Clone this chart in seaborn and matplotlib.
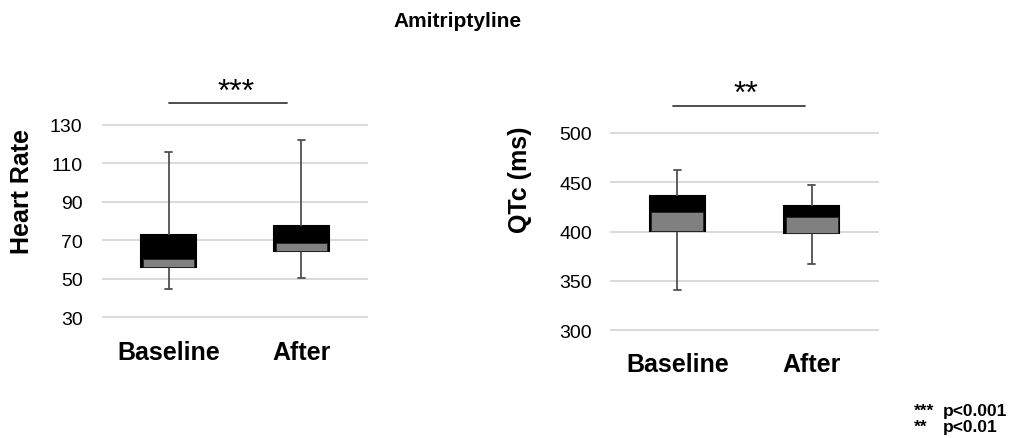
import pandas as pd
import matplotlib.pyplot as plt
import seaborn as sns

GROUPS = ["Baseline", "After"]

# five-number summaries: min, q1, median, q3, max
HR_BASELINE  = [44.5, 56.0, 60.3, 72.5, 116.0]
HR_AFTER     = [50.5, 64.5, 68.5, 77.2, 122.0]
QTC_BASELINE = [341.0, 400.5, 420.0, 436.0, 462.0]
QTC_AFTER    = [367.0, 398.0, 414.5, 425.5, 447.5]

HR_TICKS  = [30, 50, 70, 90, 110, 130]
QTC_TICKS = [300, 350, 400, 450, 500]


def long_form(baseline, after):
    return pd.DataFrame({
        "group": [GROUPS[0]] * len(baseline) + [GROUPS[1]] * len(after),
        "value": baseline + after,
    })


def draw_panel(ax, baseline, after, ticks, ytick_pad, xtick_pad):
    df = long_form(baseline, after)
    sns.boxplot(data=df, x="group", y="value", order=GROUPS, whis=(0, 100),
                width=0.41, color="black", saturation=1, linecolor="black",
                linewidth=1.5, showfliers=False, capwidths=0.05,
                whiskerprops=dict(color="#505050", linewidth=1.3),
                capprops=dict(color="#505050", linewidth=1.3),
                medianprops=dict(color="black", linewidth=0.8),
                ax=ax)
    # lower half of each box (q1 -> median) in grey
    q1 = [baseline[1], after[1]]
    med = [baseline[2], after[2]]
    ax.bar(range(len(GROUPS)), [m - q for m, q in zip(med, q1)], bottom=q1,
           width=0.385, color="#808080", edgecolor="#202020", linewidth=0.6,
           zorder=3)

    ax.set_ylim(ticks[0] - 0.004 * (ticks[-1] - ticks[0]),
                ticks[-1] + 0.004 * (ticks[-1] - ticks[0]))
    ax.set_yticks(ticks)
    ax.set_xlim(-0.5, 1.5)
    ax.yaxis.grid(True, color="#d9d9d9", linewidth=1.4)
    ax.set_axisbelow(True)
    for s in ax.spines.values():
        s.set_visible(False)
    ax.tick_params(axis="y", length=0, labelsize=14, pad=ytick_pad,
                   labelcolor="black")
    ax.tick_params(axis="x", length=0, labelsize=18, pad=xtick_pad,
                   labelcolor="black")
    for lab in ax.get_xticklabels():
        lab.set_fontweight("bold")
    ax.set_xlabel("")
    ax.set_ylabel("")


def main():
    sns.set_style("white")
    plt.rcParams["font.family"] = ["Liberation Sans", "DejaVu Sans"]
    plt.rcParams["text.color"] = "black"

    fig = plt.figure(figsize=(10.09, 4.39), dpi=100)
    ax1 = fig.add_axes([0.1011, 0.2733, 0.2636, 0.4419])
    ax2 = fig.add_axes([0.6046, 0.2437, 0.2666, 0.4533])

    draw_panel(ax1, HR_BASELINE, HR_AFTER, HR_TICKS, 14, 15.5)
    draw_panel(ax2, QTC_BASELINE, QTC_AFTER, QTC_TICKS, 13, 15)

    # significance bars
    ax1.plot([0, 0.89], [141.3, 141.3], color="#404040", lw=1.3, clip_on=False)
    ax1.text(0.51, 143.0, "***", ha="center", va="baseline", fontsize=23,
             clip_on=False)
    ax2.plot([-0.03, 0.95], [527.6, 527.6], color="#404040", lw=1.3, clip_on=False)
    ax2.text(0.51, 531.0, "**", ha="center", va="baseline", fontsize=23,
             clip_on=False)

    fig.text(22 / 1009, 1 - 192 / 439, "Heart Rate", rotation=90, ha="center",
             va="center", fontsize=18, fontweight="bold")
    fig.text(520 / 1009, 1 - 180 / 439, "QTc (ms)", rotation=90, ha="center",
             va="center", fontsize=18, fontweight="bold")
    fig.text(458 / 1009, 1 - 27 / 439, "Amitriptyline", ha="center",
             va="baseline", fontsize=15, fontweight="bold")

    fig.text(914 / 1009, 1 - 416 / 439, "***", ha="left", va="baseline",
             fontsize=12.5, fontweight="bold")
    fig.text(943 / 1009, 1 - 416 / 439, "p<0.001", ha="left", va="baseline",
             fontsize=12.5, fontweight="bold")
    fig.text(914 / 1009, 1 - 432 / 439, "**", ha="left", va="baseline",
             fontsize=12.5, fontweight="bold")
    fig.text(943 / 1009, 1 - 432 / 439, "p<0.01", ha="left", va="baseline",
             fontsize=12.5, fontweight="bold")

    fig.savefig("out.png", dpi=100)


if __name__ == "__main__":
    main()
